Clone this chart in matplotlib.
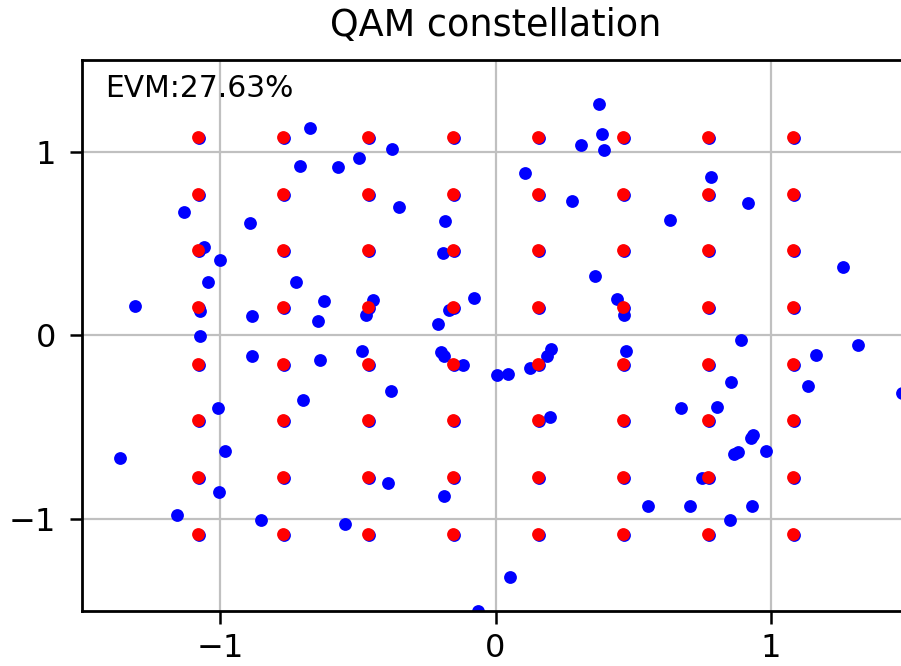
import numpy as np
from matplotlib import pyplot as plt

# ideal 64-QAM levels (red) and received symbols sitting on the grid (blue)
levels = [-1.080, -0.771, -0.463, -0.154, 0.154, 0.463, 0.771, 1.080]
rx_levels_i = [-1.075, -0.766, -0.458, -0.149, 0.159, 0.468, 0.776, 1.085]
rx_levels_q = [-1.085, -0.776, -0.468, -0.159, 0.149, 0.458, 0.766, 1.075]

# received symbols that are off the grid
rx_i = [-0.675, -0.709, -0.572, -0.495, -1.131, -0.891, -1.058, -1.000, -1.044, -0.725,
        -1.307, -0.622, -0.885, -0.644, -1.072, -1.074, 0.376, 0.388, 0.309, 0.394,
        -0.376, 0.107, -0.349, 0.278, -0.185, -0.191, 0.360, -0.446, -0.470, -0.079,
        -0.168, -0.209, 0.442, 0.466, 0.782, 0.915, 0.633, 1.262, 0.891, -0.885,
        -0.636, -0.485, -0.698, -1.008, -1.362, -0.983, -1.005, -1.156, -0.850, -0.545,
        -0.197, -0.187, -0.117, -0.379, 0.007, 0.045, 0.125, 0.186, 0.203, 0.198,
        -0.389, -0.186, 0.054, -0.062, 0.475, 1.162, 1.315, 1.134, 1.475, 0.856,
        0.673, 0.803, 0.936, 0.927, 0.881, 0.867, 0.981, 0.748, 0.555, 0.707,
        0.931, 0.851]
rx_q = [1.130, 0.924, 0.918, 0.964, 0.672, 0.614, 0.480, 0.411, 0.291, 0.291,
        0.162, 0.188, 0.108, 0.081, 0.135, -0.003, 1.261, 1.098, 1.036, 1.009,
        1.016, 0.886, 0.699, 0.730, 0.620, 0.446, 0.324, 0.193, 0.112, 0.202,
        0.139, 0.061, 0.196, 0.112, 0.864, 0.723, 0.628, 0.374, -0.025, -0.113,
        -0.133, -0.084, -0.351, -0.394, -0.665, -0.630, -0.851, -0.978, -1.006, -1.029,
        -0.090, -0.112, -0.159, -0.300, -0.215, -0.211, -0.177, -0.112, -0.075, -0.443,
        -0.802, -0.873, -1.316, -1.500, -0.084, -0.106, -0.053, -0.278, -0.311, -0.253,
        -0.393, -0.391, -0.541, -0.556, -0.632, -0.645, -0.628, -0.777, -0.928, -0.926,
        -0.931, -1.004]

evm = 27.63

ideal_i, ideal_q = np.meshgrid(levels, levels)
grid_i, grid_q = np.meshgrid(rx_levels_i, rx_levels_q)

fig = plt.figure(figsize=(9.01, 6.66), dpi=100)
ax = fig.add_axes([0.0913, 0.0826, 0.9173, 0.8276])

ax.grid(True, color="#c0c0c0", linewidth=1.6, zorder=0)
ax.set_axisbelow(True)

ax.scatter(grid_i.ravel(), grid_q.ravel(), s=85, color="blue", linewidths=0, zorder=2)
ax.scatter(rx_i, rx_q, s=85, color="blue", linewidths=0, zorder=2)
ax.scatter(ideal_i.ravel(), ideal_q.ravel(), s=85, color="red", linewidths=0, zorder=3)

ax.text(-1.417, 1.30, "EVM:%.2f%%" % evm, fontsize=21.4)
ax.set_title("QAM constellation", fontsize=26.4, pad=17)

ax.set_xlim(-1.5, 1.5)
ax.set_ylim(-1.5, 1.5)
ax.set_xticks([-1, 0, 1])
ax.set_yticks([-1, 0, 1])
ax.tick_params(labelsize=23, length=9, width=1.8)
ax.tick_params(axis="x", pad=7)
ax.tick_params(axis="y", pad=10)
for sp in ax.spines.values():
    sp.set_linewidth(2.0)

plt.savefig("out.png", dpi=100)
